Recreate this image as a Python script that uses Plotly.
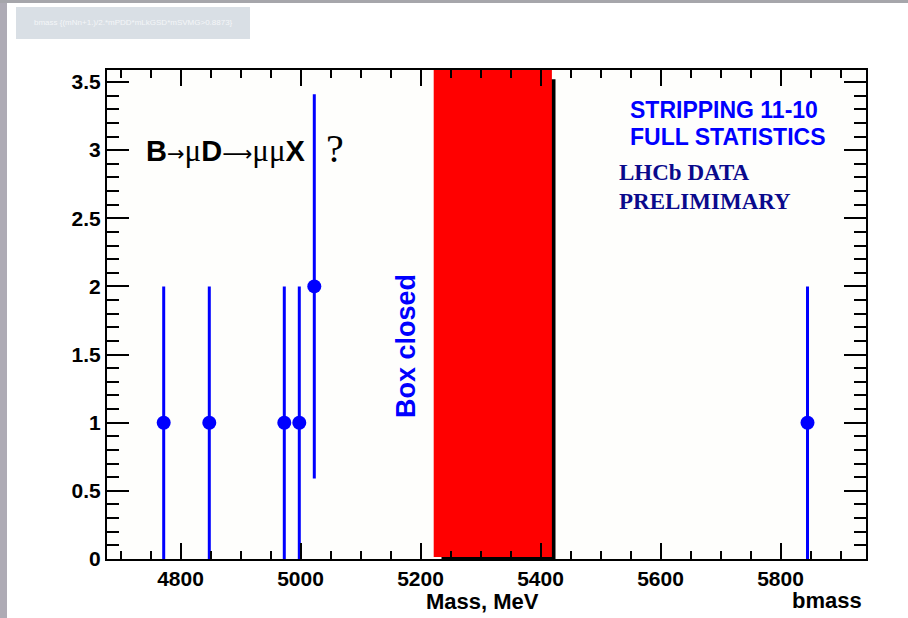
import plotly.graph_objects as go

# ---- data ----
mass = [4772, 4848, 4973, 4998, 5023, 5845]
counts = [1, 1, 1, 1, 2, 1]
errors = [1, 1, 1, 1, 1.41, 1]
blind_window = [5222, 5419]          # "Box closed" signal region (MeV)
x_ticks = [4800, 5000, 5200, 5400, 5600, 5800]
y_ticks = [0, 0.5, 1, 1.5, 2, 2.5, 3, 3.5]

W, H = 908, 618
L, R, T, B = 107, 42, 70, 59
PW, PH = W - L - R, H - T - B


def px(x):
    return (x - L) / PW


def py(y):
    return (H - B - y) / PH


SANS = "Liberation Sans, Arial, sans-serif"
SERIF = "Liberation Serif, Times New Roman, serif"

fig = go.Figure()
fig.add_trace(go.Scatter(
    x=mass, y=counts, mode="markers",
    marker=dict(color="#0000ff", size=14),
    error_y=dict(type="data", array=errors, color="#0000ff", thickness=3, width=0),
    showlegend=False, hoverinfo="x+y",
))

shapes = []
# blinded box with shadow
shapes.append(dict(type="rect", xref="x", yref="y", layer="below",
                   x0=blind_window[0] + 13, x1=blind_window[1] + 6,
                   y0=-0.01, y1=3.52, fillcolor="black", line=dict(width=0)))
shapes.append(dict(type="rect", xref="x", yref="y", layer="below",
                   x0=blind_window[0], x1=blind_window[1],
                   y0=0.015, y1=3.7, fillcolor="#ff0000", line=dict(width=0)))
# page decorations (slide frame)
shapes.append(dict(type="rect", xref="paper", yref="paper",
                   x0=px(0), x1=px(7), y0=py(H), y1=py(0),
                   fillcolor="#aeabb5", line=dict(width=0), layer="below"))
shapes.append(dict(type="rect", xref="paper", yref="paper",
                   x0=px(0), x1=px(W), y0=py(3), y1=py(0),
                   fillcolor="#a6a6ab", line=dict(width=0), layer="below"))
shapes.append(dict(type="rect", xref="paper", yref="paper",
                   x0=px(16), x1=px(250), y0=py(39), y1=py(7),
                   fillcolor="#d9dfe5", line=dict(width=0), layer="below"))


def note(xp, yp, text, font, xanchor="center", angle=0):
    return dict(xref="paper", yref="paper", x=px(xp), y=py(yp), text=text,
                xanchor=xanchor, yanchor="middle", showarrow=False,
                textangle=angle, font=font)


ann = [
    note(133, 23, "bmass {(mNn+1.)/2.*mPDD*mLkGSD*mSVMG>0.8873}",
         dict(family=SANS, size=8, color="#f4f6f8")),
    note(482, 601, "Mass, MeV",
         dict(family=SANS, size=22, color="black", weight="bold")),
    note(864, 600, "bmass",
         dict(family=SANS, size=22, color="black", weight="bold"), xanchor="right"),
    note(406, 346, "Box closed",
         dict(family=SANS, size=27, color="#0000ff", weight="bold"), angle=-90),
    note(724, 110, "STRIPPING 11-10",
         dict(family=SANS, size=23, color="#0000ff", weight="bold")),
    note(728, 137, "FULL STATISTICS",
         dict(family=SANS, size=23, color="#0000ff", weight="bold")),
    note(617, 172, "LHCb DATA",
         dict(family=SERIF, size=23, color="#0a0a8c", weight="bold"), xanchor="left"),
    note(617, 201, "PRELIMIMARY",
         dict(family=SERIF, size=23, color="#0a0a8c", weight="bold"), xanchor="left"),
]
arrow1 = "<span style='font-family:DejaVu Sans;font-weight:normal;font-size:21px'>→</span>"
arrow2 = "<span style='font-family:DejaVu Sans;font-weight:normal;font-size:21px'>⟶</span>"
mu = "<span style='font-family:Liberation Serif;font-weight:normal;font-size:31px'>μ</span>"
decay = "<b>B</b>" + arrow1 + mu + "<b>D</b>" + arrow2 + mu + mu + "<b>X</b>"
ann.append(note(144, 150, decay, dict(family=SANS, size=29, color="black"), xanchor="left"))
ann.append(note(335, 148, "?", dict(family=SERIF, size=40, color="black")))

axis_common = dict(showline=True, linecolor="black", linewidth=2, mirror="allticks",
                   ticks="inside", tickcolor="black", tickwidth=2,
                   showgrid=False, zeroline=False,
                   tickfont=dict(family=SANS, size=21, color="black", weight="bold"))

fig.update_layout(
    width=W, height=H,
    margin=dict(l=L, r=R, t=T, b=B, pad=0),
    paper_bgcolor="white", plot_bgcolor="#fefefc",
    shapes=shapes, annotations=ann,
    xaxis=dict(range=[4677.5, 5942.5], tickvals=x_ticks, ticklen=16,
               minor=dict(dtick=50, tick0=4800, ticks="inside", ticklen=8,
                          tickcolor="black", tickwidth=2),
               **axis_common),
    yaxis=dict(range=[0, 3.588], tickvals=y_ticks, ticklen=22,
               minor=dict(dtick=0.1, tick0=0, ticks="inside", ticklen=12,
                          tickcolor="black", tickwidth=2),
               **axis_common),
)

fig.write_html("out.html")
